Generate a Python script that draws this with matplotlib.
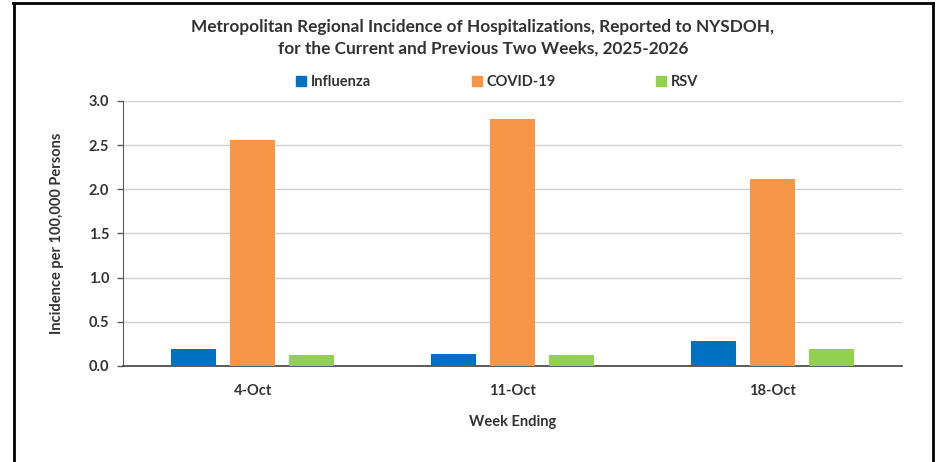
import numpy as np
import matplotlib
matplotlib.use("Agg")
import matplotlib.pyplot as plt
from matplotlib.lines import Line2D

plt.rcParams['font.family'] = ['Lato', 'DejaVu Sans']

weeks = ['4-Oct', '11-Oct', '18-Oct']
influenza = [0.19, 0.14, 0.28]
covid = [2.56, 2.80, 2.12]
rsv = [0.13, 0.13, 0.19]
series = ['Influenza', 'COVID-19', 'RSV']
colors = ['#0070C0', '#F79646', '#92D050']

fig = plt.figure(figsize=(9.36, 4.62), dpi=100)
ax = fig.add_axes([0.1314, 0.2078, 0.8323, 0.5736])

x = np.arange(len(weeks))
w = 0.173
step = 0.227
for i, (vals, c, name) in enumerate(zip([influenza, covid, rsv], colors, series)):
    ax.bar(x + (i - 1) * step, vals, width=w, color=c, label=name, zorder=3)

ax.set_xlim(-0.5, 2.5)
ax.set_ylim(0, 3.0)
ax.set_yticks(np.arange(0, 3.01, 0.5))
ax.set_yticklabels([f'{v:.1f}' for v in np.arange(0, 3.01, 0.5)],
                   fontsize=10.5, fontweight='bold', color='#333333')
ax.set_xticks(x)
ax.set_xticklabels(weeks, fontsize=10.5, fontweight='bold', color='#333333')
ax.tick_params(axis='x', length=0, pad=13)
ax.tick_params(axis='y', length=4, width=1, color='#595959', direction='out', pad=6)
ax.grid(axis='y', color='#d0d0d0', linewidth=1, zorder=0)

for s in ['top', 'right']:
    ax.spines[s].set_visible(False)
ax.spines['left'].set_color('#595959')
ax.spines['bottom'].set_color('#404040')
ax.spines['bottom'].set_linewidth(1.2)

ax.set_xlabel('Week Ending', fontsize=10.5, fontweight='bold', color='#333333', labelpad=12)
ax.set_ylabel('Incidence per 100,000 Persons', fontsize=10.5, fontweight='bold',
              color='#333333', labelpad=18)

fig.text(0.516, 0.918, 'Metropolitan Regional Incidence of Hospitalizations, Reported to NYSDOH,\n'
         'for the Current and Previous Two Weeks, 2025-2026',
         ha='center', va='center', fontsize=12.4, fontweight='bold', color='#333333',
         linespacing=1.45)

handles = [Line2D([], [], marker='s', linestyle='none', markersize=7,
                  markerfacecolor=c, markeredgecolor=c) for c in colors]
fig.legend(handles, series, loc='center', bbox_to_anchor=(0.531, 0.822), ncol=3,
           frameon=False, columnspacing=6.9, handlelength=0.7, handletextpad=0.3,
           prop={'size': 10.5, 'weight': 'bold'}, labelcolor='#333333')

# frame around the picture (no bottom edge)
fig.add_artist(Line2D([0.0145, 0.0145], [0.0, 0.994], color='black', linewidth=2,
                      transform=fig.transFigure))
fig.add_artist(Line2D([0.0135, 0.9965], [0.993, 0.993], color='black', linewidth=2,
                      transform=fig.transFigure))
fig.add_artist(Line2D([0.9965, 0.9965], [0.0, 0.994], color='black', linewidth=2,
                      transform=fig.transFigure))

fig.savefig('out.png', dpi=100)
